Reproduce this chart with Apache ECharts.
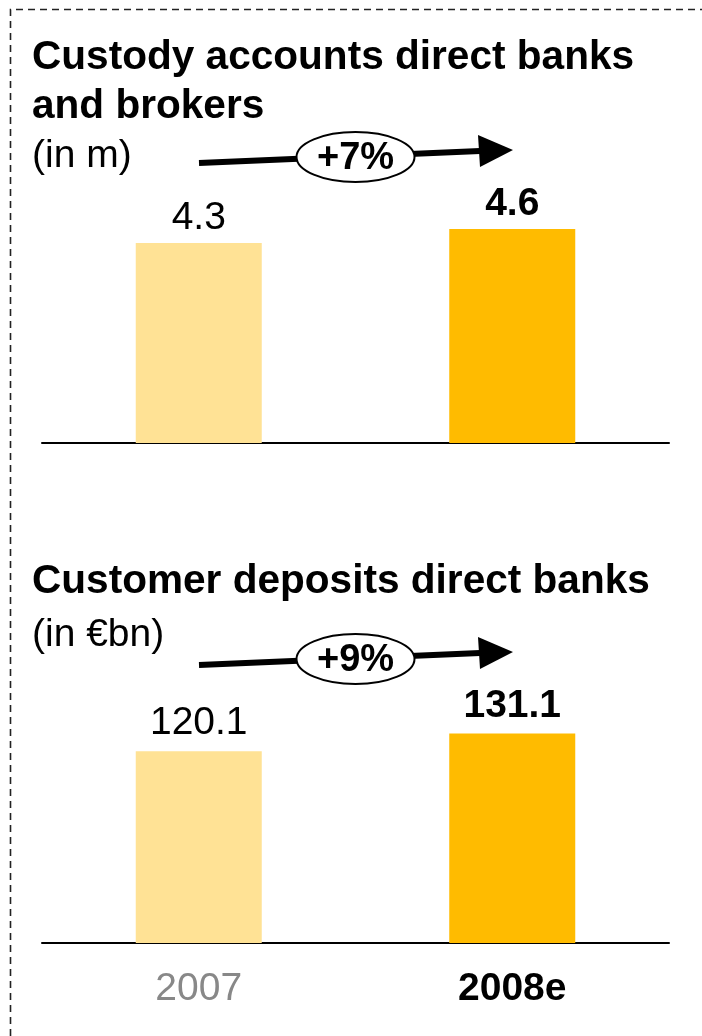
<!DOCTYPE html>
<html>
<head>
<meta charset="utf-8">
<style>
  html, body { margin: 0; padding: 0; background: #fff; }
  #chart { width: 702px; height: 1036px; }
</style>
<script src="https://cdn.jsdelivr.net/npm/echarts@6/dist/echarts.min.js"></script>
</head>
<body>
<div id="chart"></div>
<script>
// Years on the shared category axis
const years = ['2007', '2008e'];
// Custody accounts of direct banks and brokers, in millions
const custodyAccounts = [4.3, 4.6];
// Customer deposits of direct banks, in EUR bn
const customerDeposits = [120.1, 131.1];
// Growth labels shown in the arrow bubbles
const growthLabels = ['+7%', '+9%'];

const FONT = '"Liberation Sans", Arial, Helvetica, sans-serif';
const LIGHT = '#FFE295';
const DARK = '#FFBB00';

function barSeries(values, gridIdx) {
  return {
    type: 'bar',
    xAxisIndex: gridIdx,
    yAxisIndex: gridIdx,
    barWidth: 126,
    data: values.map((v, i) => ({
      value: v,
      itemStyle: { color: i === 0 ? LIGHT : DARK },
      label: {
        show: true,
        position: 'top',
        distance: gridIdx === 0 ? 5 : 8,
        fontFamily: FONT,
        fontSize: 39,
        color: '#000',
        fontWeight: i === 0 ? 'normal' : 'bold',
        formatter: () => v.toFixed(1)
      }
    })),
    animation: false
  };
}

function categoryAxis(gridIdx, showLabels) {
  return {
    type: 'category',
    gridIndex: gridIdx,
    data: years,
    axisLine: { show: true, lineStyle: { color: '#000', width: 2 } },
    axisTick: { show: false },
    axisLabel: {
      show: showLabels,
      margin: 27,
      fontFamily: FONT,
      fontSize: 39,
      formatter: (v, i) => i === 0 ? '{a|' + v + '}' : '{b|' + v + '}',
      rich: {
        a: { fontFamily: FONT, fontSize: 39, color: '#888888' },
        b: { fontFamily: FONT, fontSize: 39, color: '#000', fontWeight: 'bold' }
      }
    }
  };
}

function valueAxis(gridIdx, max) {
  return {
    type: 'value',
    gridIndex: gridIdx,
    min: 0,
    max: max,
    show: false,
    splitLine: { show: false }
  };
}

// Growth arrow with an oval label, offset vertically by dy
function growthArrow(label, dy) {
  return [
    {
      type: 'polyline',
      shape: { points: [[199, 163 + dy], [480, 151 + dy]] },
      style: { stroke: '#000', lineWidth: 6, fill: null },
      z: 10
    },
    {
      type: 'polygon',
      shape: { points: [[513, 150 + dy], [478, 135 + dy], [480, 167 + dy]] },
      style: { fill: '#000' },
      z: 11
    },
    {
      type: 'ellipse',
      shape: { cx: 355.5, cy: 157 + dy, rx: 59, ry: 25 },
      style: { fill: '#fff', stroke: '#000', lineWidth: 2 },
      z: 12
    },
    {
      type: 'text',
      x: 355.5,
      y: 159 + dy,
      style: {
        text: label,
        fontFamily: FONT,
        fontSize: 38,
        fontWeight: 'bold',
        fill: '#000',
        align: 'center',
        verticalAlign: 'middle'
      },
      z: 13
    }
  ];
}

const chart = echarts.init(document.getElementById('chart'), null, { renderer: 'canvas' });

chart.setOption({
  backgroundColor: '#fff',
  animation: false,
  grid: [
    { left: 42, width: 627, top: 210.4, height: 232.6 },
    { left: 42, width: 627, top: 703.4, height: 239.6 }
  ],
  xAxis: [categoryAxis(0, false), categoryAxis(1, true)],
  yAxis: [valueAxis(0, 5), valueAxis(1, 150)],
  series: [barSeries(custodyAccounts, 0), barSeries(customerDeposits, 1)],
  graphic: [
    // dashed frame along the top and left edges
    {
      type: 'polyline',
      shape: { points: [[10.5, 1036], [10.5, 9.5], [702, 9.5]] },
      style: { stroke: '#222', lineWidth: 1.6, lineDash: [7, 5], fill: null }
    },
    {
      type: 'text',
      x: 32,
      y: 33,
      style: {
        text: 'Custody accounts direct banks\nand brokers',
        fontFamily: FONT,
        fontSize: 40.6,
        fontWeight: 'bold',
        lineHeight: 49,
        fill: '#000'
      }
    },
    {
      type: 'text',
      x: 32,
      y: 137,
      style: { text: '(in m)', fontFamily: FONT, fontSize: 39, fill: '#000' }
    },
    {
      type: 'text',
      x: 32,
      y: 561,
      style: {
        text: 'Customer deposits direct banks',
        fontFamily: FONT,
        fontSize: 40.6,
        fontWeight: 'bold',
        fill: '#000'
      }
    },
    {
      type: 'text',
      x: 32,
      y: 616,
      style: { text: '(in €bn)', fontFamily: FONT, fontSize: 39, fill: '#000' }
    },
    ...growthArrow(growthLabels[0], 0),
    ...growthArrow(growthLabels[1], 502)
  ]
});
</script>
</body>
</html>
